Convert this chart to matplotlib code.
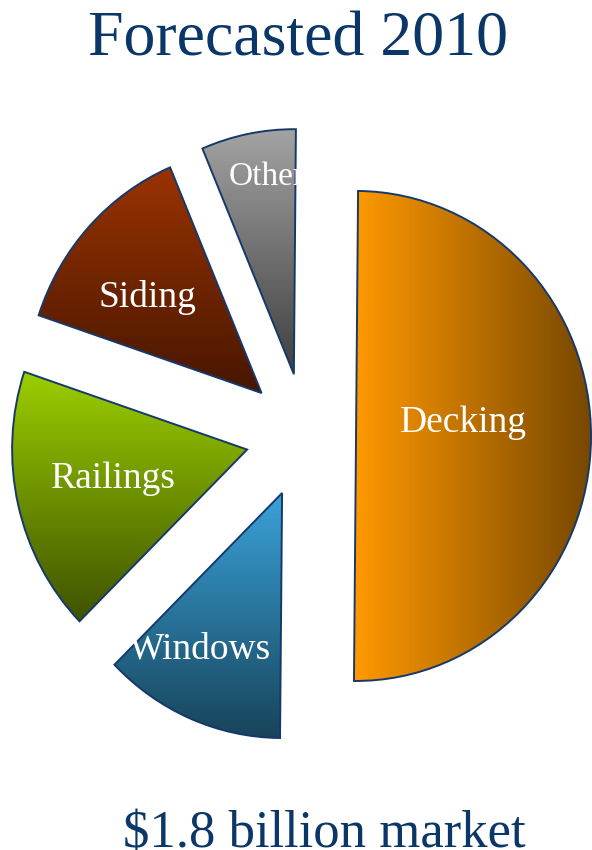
import numpy as np
import matplotlib
matplotlib.use('Agg')
import matplotlib.pyplot as plt
from matplotlib.colors import to_rgb

# 2010 forecast, share of the $1.8 billion market (%)
segments = ['Decking', 'Windows', 'Railings', 'Siding', 'Other']
share = [50, 12.5, 17.5, 13.5, 6.5]
explode = [0.215, 0.255, 0.255, 0.255, 0.255]

# gradient colours per wedge: (start, end, direction)
grads = [('#ff9900', '#774700', 'h'),
         ('#3aa2da', '#17445a', 'v'),
         ('#9ccf00', '#3e5200', 'v'),
         ('#9a3300', '#471600', 'v'),
         ('#a3a3a3', '#3f3f3f', 'v')]

# label anchors (data coords, baseline)
label_pos = [(0.670, 0.016, 'center'), (-0.449, -0.909, 'center'),
             (-0.819, -0.213, 'center'), (-0.674, 0.526, 'center'),
             (-0.329, 1.022, 'left')]
label_size = [27, 27, 27, 27, 24]

navy = '#0b3668'
edge = '#15396a'

fig = plt.figure(figsize=(5.92, 8.5), dpi=100)
ax = fig.add_axes([0, 0, 1, 1])

wedges, _ = ax.pie(share, explode=explode, startangle=89.5, counterclock=False,
                   radius=1, center=(0, 0),
                   wedgeprops=dict(edgecolor=edge, linewidth=1.4, facecolor='none'))

for w, (c0, c1, d) in zip(wedges, grads):
    bb = w.get_path().get_extents()
    t = np.linspace(0, 1, 256)
    cols = (1 - t)[:, None] * np.array(to_rgb(c0)) + t[:, None] * np.array(to_rgb(c1))
    if d == 'h':
        img = cols[None, :, :]
    else:
        img = cols[:, None, :]
    im = ax.imshow(img, extent=(bb.x0, bb.x1, bb.y0, bb.y1), origin='upper',
                   aspect='auto', interpolation='bilinear', zorder=0)
    im.set_clip_path(w)

for w, name, (x, y, ha), fs in zip(wedges, segments, label_pos, label_size):
    txt = ax.text(x, y, name, ha=ha, va='baseline', color='white', fontsize=fs,
                  family='Liberation Serif')
    txt.set_clip_path(w)

# pixel scale: 235 px per unit horizontally, 245 px vertically
ax.set_xlim(-305.5 / 235, (592 - 305.5) / 235)
ax.set_ylim((435.5 - 850) / 245, 435.5 / 245)
ax.set_aspect('auto')
ax.axis('off')

fig.text(0.504, 1 - 55 / 850, 'Forecasted 2010', ha='center', va='baseline',
         color=navy, fontsize=46, family='Liberation Serif')
fig.text(0.547, 1 - 846.7 / 850, '$1.8 billion market', ha='center', va='baseline',
         color=navy, fontsize=38, family='Liberation Serif')

fig.savefig('out.png', dpi=100)
